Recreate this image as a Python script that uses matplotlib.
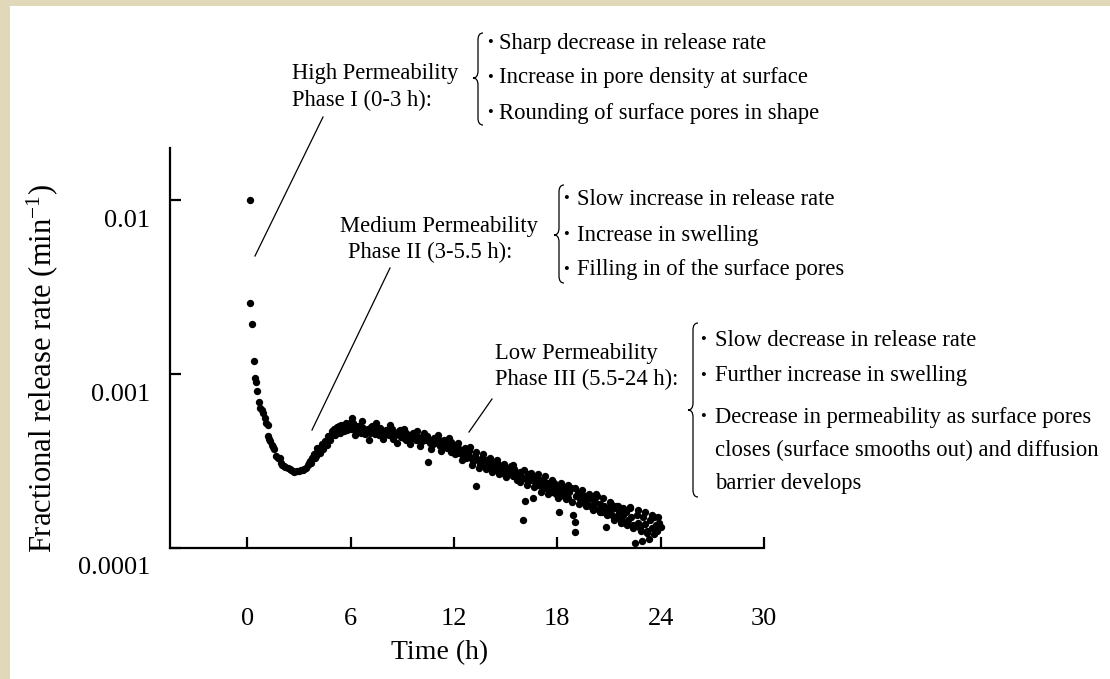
import matplotlib
matplotlib.use("Agg")
import matplotlib.pyplot as plt
from matplotlib.path import Path
from matplotlib.patches import PathPatch, Rectangle
from matplotlib.ticker import NullLocator
from matplotlib.transforms import ScaledTranslation
import numpy as np

plt.rcParams['font.family'] = ['Liberation Serif', 'DejaVu Serif']
plt.rcParams['mathtext.fontset'] = 'custom'
plt.rcParams['mathtext.rm'] = 'Liberation Serif'
plt.rcParams['mathtext.it'] = 'Liberation Serif:italic'

# ---------------- data (time in h, rate in 1e-4 min^-1) ----------------
time_early = [0.17, 0.12, 0.27, 0.37, 0.45, 0.50, 0.56, 0.66, 0.75, 0.82, 0.89, 0.99,
              1.08, 1.18, 1.22, 1.27, 1.31, 1.41, 1.47, 1.53, 1.66, 1.76, 1.86, 1.95,
              2.03, 2.11, 2.20, 2.34, 2.45, 2.53, 2.62, 2.72, 2.85, 3.01, 3.10, 3.21,
              3.30, 3.40, 3.50, 3.59, 3.66, 3.73, 3.80, 3.88, 3.98, 4.00, 4.08, 4.17,
              4.27, 4.36, 4.46, 4.50, 4.56, 4.66, 4.75, 4.85, 4.95, 5.00, 5.04, 5.14,
              5.24, 5.30, 5.33, 5.43, 5.50, 5.52, 5.62, 5.70, 5.72, 5.82,
              3.70, 3.95, 4.05, 4.20, 4.30, 4.40, 4.60, 4.70, 4.80, 4.90, 5.10, 5.20,
              5.35, 5.45, 5.60, 5.75, 5.80]
rate_early = [100.0, 25.6, 19.4, 11.9, 9.5, 9.0, 8.0, 6.9, 6.35, 6.2, 6.0, 5.6,
              5.25, 5.1, 4.4, 4.25, 4.12, 3.91, 3.8, 3.69, 3.38, 3.3, 3.27, 3.09,
              3.0, 2.96, 2.92, 2.87, 2.83, 2.80, 2.78, 2.75, 2.78, 2.77, 2.80, 2.80,
              2.85, 2.90, 3.0, 3.09, 3.18, 3.27, 3.35, 3.45, 3.52, 3.40, 3.60, 3.68,
              3.77, 3.85, 3.94, 4.10, 4.03, 4.12, 4.25, 4.40, 4.50, 4.80, 4.60, 4.68,
              4.74, 5.00, 4.80, 4.87, 4.70, 4.90, 4.95, 5.20, 4.95, 5.00,
              3.10, 3.30, 3.75, 3.50, 3.95, 3.70, 3.90, 4.40, 4.15, 4.70, 4.45, 4.95,
              4.60, 5.10, 4.70, 5.15, 4.75]

time_late = [5.9, 6.0, 6.07, 6.1, 6.2, 6.3, 6.4, 6.5, 6.6, 6.7, 6.8,
             7.0, 7.1, 7.2, 7.3, 7.4, 7.5, 7.6, 7.7, 7.8, 7.9,
             8.0, 8.1, 8.2, 8.3, 8.4, 8.5, 8.6, 8.7, 8.8, 8.9,
             9.0, 9.1, 9.2, 9.3, 9.4, 9.5, 9.6, 9.7, 9.8, 9.9,
             10.0, 10.1, 10.2, 10.3, 10.4, 10.5, 10.6, 10.7, 10.8, 10.9,
             11.0, 11.1, 11.2, 11.3, 11.4, 11.5, 11.6, 11.7, 11.8, 11.9,
             12.0, 12.1, 12.2, 12.3, 12.4, 12.5, 12.6, 12.7, 12.8, 12.93,
             13.0, 13.1, 13.2, 13.3, 13.4, 13.5, 13.6, 13.7, 13.8, 13.9,
             14.0, 14.1, 14.2, 14.3, 14.4, 14.5, 14.6, 14.7, 14.8, 14.9,
             15.0, 15.1, 15.2, 15.3, 15.4, 15.5, 15.6, 15.7, 15.8, 15.9,
             16.0, 16.1, 16.2, 16.3, 16.4, 16.5, 16.6, 16.7, 16.8, 16.9,
             17.0, 17.1, 17.2, 17.3, 17.4, 17.5, 17.6, 17.7, 17.8, 17.9,
             18.0, 18.1, 18.2, 18.3, 18.4, 18.5, 18.6, 18.7, 18.8, 18.9,
             19.0, 19.05, 19.1, 19.2, 19.3, 19.4, 19.5, 19.6, 19.7, 19.8, 19.9,
             20.0, 20.1, 20.2, 20.3, 20.4, 20.5, 20.6, 20.7, 20.8, 20.9,
             21.0, 21.1, 21.2, 21.3, 21.4, 21.5, 21.6, 21.7, 21.8, 21.9,
             22.0, 22.1, 22.2, 22.3, 22.4, 22.5, 22.6, 22.7, 22.8, 22.9,
             23.0, 23.1, 23.2, 23.3, 23.4, 23.5, 23.6, 23.7, 23.8, 23.9, 24.0]
rate_late = [5.1, 4.8, 5.6, 5.2, 4.95, 4.7, 5.0, 4.85, 4.6, 4.9, 4.75,
             4.85, 4.6, 4.95, 4.7, 4.55, 4.8, 4.65, 4.9, 4.5, 4.7,
             4.55, 4.75, 4.45, 4.65, 4.8, 4.4, 4.6, 4.5, 4.7, 4.35,
             4.5, 4.3, 4.6, 4.4, 4.2, 4.45, 4.3, 4.55, 4.15, 4.35,
             4.25, 4.05, 4.4, 4.15, 4.3, 3.12, 4.0, 4.2, 3.95, 4.1,
             4.0, 4.2, 3.85, 4.05, 3.9, 4.1, 3.75, 3.95, 4.05, 3.7,
             3.85, 3.6, 3.75, 3.5, 3.65, 3.4, 3.55, 3.3, 3.45, 3.82,
             3.3, 3.15, 3.4, 2.27, 3.2, 3.05, 3.3, 3.1, 2.95, 3.2,
             3.05, 2.9, 3.15, 2.95, 3.1, 2.8, 3.0, 2.85, 2.7, 2.95,
             2.8, 2.65, 2.9, 2.75, 2.6, 2.85, 2.7, 2.55, 2.75, 2.6,
             1.45, 1.86, 2.5, 2.65, 2.45, 2.6, 1.95, 2.4, 2.55, 2.3,
             2.45, 2.25, 2.4, 2.2, 2.35, 2.15, 2.3, 2.1, 2.25, 2.05,
             2.2, 1.62, 2.1, 2.25, 2.0, 2.15, 1.95, 2.1, 2.2, 1.55,
             1.42, 1.23, 2.0, 2.1, 1.9, 2.05, 1.85, 2.0, 1.8, 1.95, 1.75,
             1.9, 1.7, 1.85, 2.0, 1.65, 1.8, 1.6, 1.75, 1.32, 1.7,
             1.65, 1.8, 1.55, 1.7, 1.5, 1.75, 1.6, 1.45, 1.55, 1.4,
             1.6, 1.45, 1.7, 1.5, 1.35, 1.07, 1.55, 1.4, 1.3, 1.1,
             1.5, 1.38, 1.25, 1.12, 1.45, 1.3, 1.5, 1.35, 1.25, 1.4, 1.32]

time_spread = [6.03, 6.27, 6.41, 6.68, 6.82, 7.04, 7.22, 7.47, 7.63, 7.88,
               8.02, 8.28, 8.43, 8.67, 8.84, 9.07, 9.23, 9.46, 9.62, 9.87,
               10.03, 10.28, 10.42, 10.66, 10.83, 11.06, 11.24, 11.43, 11.68, 11.84,
               12.07, 12.22, 12.47, 12.63, 12.88, 13.04, 13.27, 13.42, 13.67, 13.83,
               14.06, 14.23, 14.48, 14.62, 14.87, 15.03, 15.28, 15.43, 15.66, 15.82,
               16.07, 16.24, 16.46, 16.63, 16.88, 17.02, 17.27, 17.44, 17.68, 17.83,
               18.06, 18.22, 18.48, 18.64, 18.86, 19.03, 19.27, 19.42, 19.67, 19.84,
               20.06, 20.23, 20.47, 20.62, 20.87, 21.04, 21.26, 21.43, 21.68, 21.83,
               22.06, 22.24, 22.42, 22.67, 22.84, 23.07, 23.22, 23.48, 23.63, 23.86]
rate_spread = [5.3, 4.45, 4.9, 5.35, 4.5, 4.2, 5.0, 5.2, 4.45, 4.25,
               4.75, 5.1, 4.25, 4.0, 4.75, 4.85, 4.15, 3.95, 4.6, 4.7,
               3.85, 4.6, 4.4, 3.7, 4.3, 4.45, 3.6, 4.15, 4.3, 3.55,
               3.45, 4.0, 3.2, 3.75, 3.6, 3.0, 3.55, 2.9, 3.45, 2.85,
               3.3, 2.75, 3.2, 2.65, 3.05, 2.55, 2.95, 3.0, 2.45, 2.4,
               2.8, 2.3, 2.7, 2.25, 2.65, 2.1, 2.6, 2.05, 2.45, 2.35,
               1.95, 2.35, 1.9, 2.3, 1.85, 2.2, 1.8, 2.15, 1.75, 2.05,
               1.65, 2.05, 1.6, 1.95, 1.55, 1.85, 1.45, 1.75, 1.4, 1.7,
               1.35, 1.72, 1.3, 1.65, 1.25, 1.6, 1.22, 1.55, 1.2, 1.5]

x_ticks = [0, 6, 12, 18, 24, 30]
y_ticks = [1e-4, 1e-3, 1e-2]
y_ticklabels = ['0.0001', '0.001', '0.01']

phase_labels = [("High Permeability", "Phase I (0-3 h):"),
                ("Medium Permeability", "Phase II (3-5.5 h):"),
                ("Low Permeability", "Phase III (5.5-24 h):")]
phase_notes = [["Sharp decrease in release rate",
                "Increase in pore density at surface",
                "Rounding of surface pores in shape"],
               ["Slow increase in release rate",
                "Increase in swelling",
                "Filling in of the surface pores"],
               ["Slow decrease in release rate",
                "Further increase in swelling",
                "Decrease in permeability as surface pores",
                "closes (surface smooths out) and diffusion",
                "barrier develops"]]

# ---------------- figure ----------------
W, H = 1110, 679
fig = plt.figure(figsize=(W / 100, H / 100), dpi=100, facecolor='white')

def P(x, y):
    return (x / W, 1 - y / H)

beige = '#e0d8b9'
fig.patches.append(Rectangle((0, 0), 10 / W, 1, transform=fig.transFigure,
                             facecolor=beige, edgecolor='none', zorder=0))
fig.patches.append(Rectangle((0, 1 - 6 / H), 1, 6 / H, transform=fig.transFigure,
                             facecolor=beige, edgecolor='none', zorder=0))

ax = fig.add_axes([170 / W, 1 - 548 / H, 594 / W, 400 / H])
ax.set_facecolor('none')
t_all = np.array(time_early + time_late + time_spread)
r_all = np.array(rate_early + rate_late + rate_spread) * 1e-4
ax.scatter(t_all, r_all, s=28, c='black', linewidths=0, clip_on=False, zorder=3)

ax.set_yscale('log')
ax.set_xlim(-4.5, 30)
ax.set_ylim(1e-4, 0.0199)
ax.set_xticks(x_ticks)
ax.set_xticklabels([str(v) for v in x_ticks])
ax.set_yticks(y_ticks)
ax.set_yticklabels(y_ticklabels)
ax.yaxis.set_minor_locator(NullLocator())
for s in ['top', 'right']:
    ax.spines[s].set_visible(False)
for s in ['left', 'bottom']:
    ax.spines[s].set_linewidth(1.6)
ax.tick_params(axis='both', direction='in', length=8, width=1.6, labelsize=19)
ax.tick_params(axis='x', pad=43)
ax.tick_params(axis='y', pad=14)
off = ScaledTranslation(0, -0.18, fig.dpi_scale_trans)
for lab in ax.get_yticklabels():
    lab.set_transform(lab.get_transform() + off)

fig.text(*P(42, 369), r"Fractional release rate (min$^{\mathdefault{-1}}$)",
         rotation=90, ha='center', va='center', fontsize=22)
fig.text(*P(440, 653), "Time (h)", ha='center', va='center', fontsize=20)

fs = 16.3
# phase labels
lab_pos = [[(292, 73), (292, 100)], [(340, 227), (348, 252)], [(495, 353), (495, 379)]]
for (l1, l2), ((x1, y1), (x2, y2)) in zip(phase_labels, lab_pos):
    fig.text(*P(x1, y1), l1, ha='left', va='center', fontsize=fs)
    fig.text(*P(x2, y2), l2, ha='left', va='center', fontsize=fs)

# leader lines
leaders = [((323, 117), (255, 256)), ((390, 268), (312, 430)), ((492, 399), (469, 432))]
for (a, b) in leaders:
    fig.add_artist(plt.Line2D([a[0] / W, b[0] / W], [1 - a[1] / H, 1 - b[1] / H],
                              transform=fig.transFigure, color='black', lw=0.9))

def brace(xl, xr, top, bot, mid, r=7):
    xm = (xl + xr) / 2
    pts = [(xr, top), (xm, top), (xm, top + r), (xm, mid - r), (xm, mid), (xl, mid),
           (xm, mid), (xm, mid + r), (xm, bot - r), (xm, bot), (xr, bot)]
    codes = [Path.MOVETO, Path.CURVE3, Path.CURVE3, Path.LINETO, Path.CURVE3, Path.CURVE3,
             Path.CURVE3, Path.CURVE3, Path.LINETO, Path.CURVE3, Path.CURVE3]
    verts = [P(x, y) for x, y in pts]
    fig.patches.append(PathPatch(Path(verts, codes), transform=fig.transFigure,
                                 facecolor='none', edgecolor='black', lw=0.9))

brace(473, 483, 33, 125, 78)
brace(554, 564, 185, 283, 235)
brace(688, 698, 323, 497, 410)

note_layout = [(490, 499, [43, 78, 113], [True, True, True]),
               (566, 577, [199, 235, 270], [True, True, True]),
               (703, 715, [340, 376, 417, 450, 483], [True, True, True, False, False])]
for notes, (bx, tx, ys, bul) in zip(phase_notes, note_layout):
    for txt, y, b in zip(notes, ys, bul):
        if b:
            fig.text(*P(bx, y), "\u2022", ha='center', va='center', fontsize=12)
        fig.text(*P(tx, y), txt, ha='left', va='center', fontsize=fs)

fig.savefig("out.png", dpi=100, facecolor=fig.get_facecolor())
